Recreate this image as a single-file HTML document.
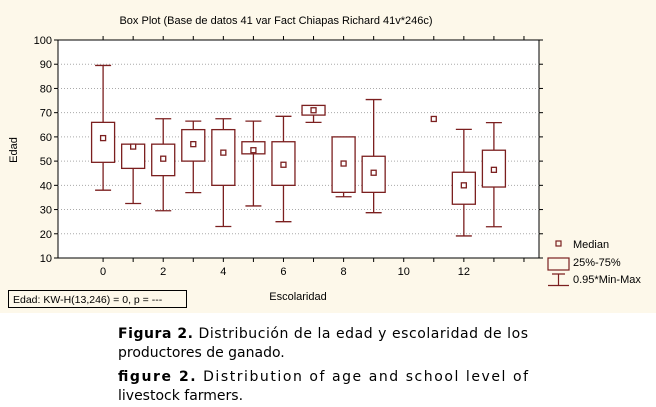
<!DOCTYPE html>
<html><head><meta charset="utf-8"><style>
body{margin:0;background:#fff;}
svg{display:block;}
</style></head><body>
<svg id="chart" width="656" height="407" xmlns="http://www.w3.org/2000/svg">
<rect x="0" y="0" width="656" height="313" fill="#fdf8ea"/>
<rect x="58" y="40" width="481" height="218" fill="#fff" stroke="#000" stroke-width="1"/>
<text x="276" y="24" font-family="Liberation Sans, sans-serif" font-size="11" text-anchor="middle">Box Plot (Base de datos 41 var Fact Chiapas Richard 41v*246c)</text>
<text transform="translate(17,150) rotate(-90)" font-family="Liberation Sans, sans-serif" font-size="11" text-anchor="middle">Edad</text>
<text x="298" y="300" font-family="Liberation Sans, sans-serif" font-size="11" text-anchor="middle">Escolaridad</text>
<g>
<rect x="8.5" y="290.5" width="178" height="17" fill="none" stroke="#000"/>
<text x="13" y="303" font-family="Liberation Sans, sans-serif" font-size="10.5">Edad:  KW-H(13,246) = 0, p = ---</text>
</g>
<g id="grid"></g><g id="axes"></g><g id="boxes"></g>
<g font-family="Liberation Sans, sans-serif" font-size="11">
<rect x="556" y="241" width="5" height="5" fill="none" stroke="#7b1f1f" stroke-width="1.2"/>
<text x="573" y="248">Median</text>
<rect x="548" y="258" width="21" height="12" fill="none" stroke="#7b1f1f" stroke-width="1.2"/>
<text x="573" y="266">25%-75%</text>
<path d="M548 285.5H569M558.5 274V285.5M552 274H565" stroke="#7b1f1f" stroke-width="1.2" fill="none"/>
<text x="573" y="283">0.95*Min-Max</text>
</g>
<g font-family="DejaVu Sans, sans-serif" font-size="14">
<text x="118" y="338" textLength="410" lengthAdjust="spacing"><tspan font-weight="bold">Figura 2.</tspan> Distribución de la edad y escolaridad de los</text>
<text x="118" y="357">productores de ganado.</text>
<text x="118" y="381" textLength="410" lengthAdjust="spacing"><tspan font-weight="bold">figure 2.</tspan>   Distribution of age and school level of</text>
<text x="118" y="400">livestock farmers.</text>
</g>
</svg>
<script>
const categories=[0,1,2,3,4,5,6,7,8,9,11,12,13];
const maxV=[89.5,57,67.5,66.5,67.5,66.5,68.5,73,60,75.4,67.4,63.1,65.9];
const q3V=[66,57,57,63,63,58,58,73,60,52,67.4,45.4,54.5];
const medV=[59.5,56,51,57,53.5,54.5,48.5,71,49,45.2,67.4,40,46.4];
const q1V=[49.5,47,44,50,40,53,40,69,37.1,37.1,67.4,32.2,39.3];
const minV=[38,32.5,29.5,37,23,31.5,25,66,35.3,28.7,67.4,19.1,22.9];
const yTicks=[10,20,30,40,50,60,70,80,90,100];
const xTickLabels=[0,2,4,6,8,10,12];
const xMinorTicks=[0,1,2,3,4,5,6,7,8,9,10,11,12,13,14];
const NS='http://www.w3.org/2000/svg';
const L=58,R=539,T=40,B=258;
const xs=v=>L+(v+1.5)/16*(R-L);
const ys=v=>B-(v-10)/90*(B-T);
const C='#7b1f1f';
function mk(tag,attrs,parent){const e=document.createElementNS(NS,tag);for(const k in attrs)e.setAttribute(k,attrs[k]);parent.appendChild(e);return e;}
const grid=document.getElementById('grid'),axes=document.getElementById('axes'),boxes=document.getElementById('boxes');
yTicks.forEach(t=>{
  const y=ys(t);
  if(t>10&&t<100){const g=mk('line',{x1:L,x2:R,y1:y,y2:y,stroke:'#aaa','stroke-dasharray':'1,2'},grid);
  
  }
  const a=mk('line',{x1:L-4,x2:L,y1:y,y2:y,stroke:'#000'},axes);
  
  
  const b=mk('line',{x1:R,x2:R+4,y1:y,y2:y,stroke:'#000'},axes);
  
  
  const tx=mk('text',{x:L-6,y:y+4,'text-anchor':'end','font-family':'Liberation Sans, sans-serif','font-size':'11'},axes);
  tx.textContent=t;
  
  
});
xMinorTicks.forEach(t=>{
  const x=xs(t);
  const a=mk('line',{x1:x,x2:x,y1:B,y2:B+4,stroke:'#000'},axes);
  
  
  const b=mk('line',{x1:x,x2:x,y1:T-4,y2:T,stroke:'#000'},axes);
  
  
});
xTickLabels.forEach(t=>{
  const tx=mk('text',{x:xs(t),y:B+17,'text-anchor':'middle','font-family':'Liberation Sans, sans-serif','font-size':'11'},axes);
  tx.textContent=t;
  
  
});
categories.forEach((c,i)=>{
  const x=xs(c),g=mk('g',{stroke:C,'stroke-width':'1.3',fill:'none'},boxes);
  
  
  const bw=11.5,cw=8;
  if(maxV[i]>q3V[i]){mk('line',{x1:x,x2:x,y1:ys(maxV[i]),y2:ys(q3V[i])},g);mk('line',{x1:x-cw,x2:x+cw,y1:ys(maxV[i]),y2:ys(maxV[i])},g);}
  if(minV[i]<q1V[i]){mk('line',{x1:x,x2:x,y1:ys(q1V[i]),y2:ys(minV[i])},g);mk('line',{x1:x-cw,x2:x+cw,y1:ys(minV[i]),y2:ys(minV[i])},g);}
  if(q3V[i]>q1V[i])mk('rect',{x:x-bw,y:ys(q3V[i]),width:2*bw,height:ys(q1V[i])-ys(q3V[i]),fill:'#fff'},g);
  mk('rect',{x:x-2.5,y:ys(medV[i])-2.5,width:5,height:5,fill:'#fff'},g);
});
</script>
</body></html>
